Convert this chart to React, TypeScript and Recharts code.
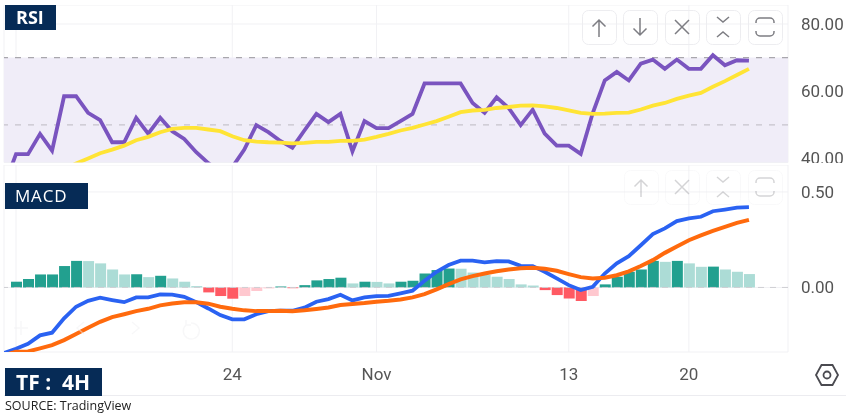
import React from 'react';
import { ComposedChart, Line, Bar, Cell, XAxis, YAxis, CartesianGrid, ReferenceLine, ReferenceArea } from 'recharts';

const rsiValues = [31.7, 41.25, 41.25, 47.3, 42.3, 58.5, 58.5, 53.55, 51.4, 44.8, 44.8, 52.1, 47.4, 52.1, 48.1, 45.8, 41.85, 38.6, 36, 37.4, 42.6, 49.9, 47.8, 45.2, 43.2, 48.3, 53.25, 50.8, 53.25, 42.1, 51.1, 49, 49, 51.1, 53.25, 62.3, 62.3, 62.3, 62.3, 56.5, 53.55, 58.2, 55, 49.9, 54.5, 47.4, 43.8, 43.8, 41.35, 53.5, 63.2, 65.75, 63.2, 68.2, 69.4, 66.65, 69.4, 66.65, 66.65, 70.7, 67.7, 69.2, 69.1];
const rsiMaValues = [null, null, null, null, null, 36.7, 38.5, 40, 41.55, 42.6, 43.8, 45.4, 46.4, 47.8, 48.8, 49.1, 49.1, 48.6, 48.1, 46.6, 45.4, 45, 44.8, 44.7, 44.5, 44.6, 44.9, 44.9, 45.2, 45.2, 45.6, 46.4, 47.3, 48.3, 49.1, 50.1, 51.1, 52.4, 53.75, 54.25, 54.45, 55, 55.3, 55.7, 55.8, 55.5, 55, 54.3, 53.55, 53.25, 53.35, 53.55, 53.65, 54.55, 55.7, 56.5, 57.7, 58.7, 59.5, 61.3, 63, 64.8, 66.65];
const macdValues = [-0.343, -0.321, -0.295, -0.251, -0.237, -0.162, -0.101, -0.07, -0.054, -0.066, -0.077, -0.052, -0.052, -0.037, -0.038, -0.049, -0.077, -0.110, -0.145, -0.167, -0.167, -0.14, -0.124, -0.122, -0.122, -0.106, -0.075, -0.061, -0.038, -0.068, -0.052, -0.045, -0.044, -0.031, -0.017, 0.035, 0.082, 0.117, 0.14, 0.14, 0.131, 0.138, 0.136, 0.113, 0.112, 0.082, 0.047, 0.012, -0.014, 0.003, 0.073, 0.126, 0.164, 0.221, 0.279, 0.309, 0.347, 0.361, 0.37, 0.399, 0.408, 0.418, 0.42];
const signalValues = [-0.355, -0.337, -0.335, -0.319, -0.302, -0.276, -0.244, -0.211, -0.18, -0.155, -0.14, -0.124, -0.112, -0.094, -0.084, -0.077, -0.077, -0.085, -0.101, -0.112, -0.12, -0.124, -0.124, -0.122, -0.124, -0.12, -0.113, -0.105, -0.092, -0.087, -0.082, -0.075, -0.07, -0.063, -0.052, -0.035, -0.01, 0.017, 0.042, 0.059, 0.073, 0.085, 0.094, 0.101, 0.103, 0.098, 0.087, 0.07, 0.054, 0.047, 0.051, 0.064, 0.084, 0.112, 0.143, 0.181, 0.214, 0.247, 0.272, 0.296, 0.317, 0.338, 0.354];
const histValues = [null, 0.03, 0.044, 0.068, 0.068, 0.112, 0.139, 0.138, 0.126, 0.094, 0.068, 0.069, 0.054, 0.061, 0.047, 0.03, 0.007, -0.026, -0.045, -0.059, -0.045, -0.019, -0.005, 0.005, -0.004, 0.012, 0.037, 0.044, 0.051, 0.021, 0.03, 0.029, 0.021, 0.03, 0.035, 0.073, 0.091, 0.099, 0.098, 0.078, 0.065, 0.056, 0.044, 0.016, 0.01, -0.014, -0.04, -0.058, -0.071, -0.045, 0.016, 0.056, 0.082, 0.094, 0.139, 0.134, 0.139, 0.126, 0.108, 0.109, 0.094, 0.082, 0.07];

const timeTicks = [1, 19, 31, 47, 57];
const timeLabels: Record<number, string> = { 1: '9', 19: '24', 31: 'Nov', 47: '13', 57: '20' };
const rsiTicks = [40, 60, 80];
const macdTicks = [0, 0.5];

const rsiRows = rsiValues.map((rsi, i) => ({ i, rsi, ma: rsiMaValues[i] }));
const macdRows = macdValues.map((macd, i) => ({ i, macd, signal: signalValues[i], hist: histValues[i] }));

const histColor = (i: number) => {
  const v = histValues[i] ?? 0;
  const prev = histValues[i - 1] ?? 0;
  if (v >= 0) return v >= prev ? '#22a08f' : '#acdcd6';
  return v < prev ? '#ff5a63' : '#ffc8cf';
};

const X_MAX = 65.25;
const FONT = 'Roboto, sans-serif';
const gridColor = '#f1f1f4';
const tickStyle = { fontSize: 17, fontFamily: FONT, fill: '#555' };

const label = (left: number, top: number, w: number, h: number, text: string, extra: React.CSSProperties) => (
  <div style={{ position: 'absolute', left, top, width: w, height: h, background: '#062b56', color: '#fff', lineHeight: h + 'px', fontFamily: '"Open Sans", sans-serif', boxSizing: 'border-box', whiteSpace: 'pre', ...extra }}>{text}</div>
);

const icons: Record<string, React.ReactNode> = {
  up: <path d="M17 27V10M10.5 16.5 17 10l6.5 6.5" />,
  down: <path d="M17 8v17M10.5 18.5 17 25l6.5-6.5" />,
  x: <path d="M10 10l14 14M24 10 10 24" />,
  collapse: <path d="M11 7l6 5 6-5M11 27l6-5 6 5" />,
  full: <path d="M8 13v-1a4 4 0 0 1 4-4h10a4 4 0 0 1 4 4v1M8 21v1a4 4 0 0 0 4 4h10a4 4 0 0 0 4-4v-1" />,
};

const ToolBtn = ({ x, y, icon, o }: { x: number; y: number; icon: string; o: number }) => (
  <svg width={35} height={35} style={{ position: 'absolute', left: x, top: y, opacity: o }}>
    <rect x={0.5} y={0.5} width={34} height={34} rx={6} fill="none" stroke="#ededf0" />
    <g fill="none" stroke="#7d7d83" strokeWidth={1.5}>{icons[icon]}</g>
  </svg>
);

const FaintNav = () => (
  <svg width={200} height={30} style={{ position: 'absolute', left: 10, top: 315, opacity: 0.5 }}>
    <g fill="none" stroke="#f1f1f3" strokeWidth={1.5}>
      <path d="M4 13h14M11 6v14M74 7l-7 6 7 6M122 7l7 6-7 6" />
      <path d="M181 8a8 8 0 1 1-5 2M176 5v5h5" />
    </g>
  </svg>
);

export default function App() {
  return (
    <div style={{ position: 'absolute', left: 0, top: 0, width: 846, height: 414, background: '#fff', overflow: 'hidden', filter: 'blur(0.4px)' }}>
      <div style={{ position: 'absolute', left: 0, top: 5 }}>
        <ComposedChart width={846} height={157.5} data={rsiRows} margin={{ top: 0, right: 0, bottom: 0, left: 4 }}>
          <CartesianGrid stroke={gridColor} />
          <XAxis type="number" dataKey="i" domain={[0, X_MAX]} ticks={timeTicks} hide allowDataOverflow />
          <YAxis orientation="right" width={58} domain={[38.78, 85.65]} ticks={rsiTicks} interval={0} tickFormatter={(v: number) => v.toFixed(2)} tick={tickStyle} axisLine={false} tickLine={false} tickMargin={7} allowDataOverflow />
          <ReferenceArea y1={38.78} y2={70} fill="#f0edf8" fillOpacity={1} stroke="none" ifOverflow="hidden" />
          <ReferenceLine y={70} stroke="#a9a7ad" strokeDasharray="6 7" strokeWidth={1.3} />
          <ReferenceLine y={50} stroke="#c6c3cc" strokeDasharray="6 7" strokeWidth={1.3} />
          <Line dataKey="rsi" stroke="#7a54bf" strokeWidth={3.8} dot={false} isAnimationActive={false} />
          <Line dataKey="ma" stroke="#ffe435" strokeWidth={3.8} dot={false} isAnimationActive={false} />
        </ComposedChart>
      </div>
      <div style={{ position: 'absolute', left: 0, top: 165 }}>
        <ComposedChart width={846} height={231} data={macdRows} margin={{ top: 0, right: 0, bottom: 0, left: 4 }}>
          <CartesianGrid stroke={gridColor} />
          <XAxis type="number" dataKey="i" domain={[0, X_MAX]} ticks={timeTicks} tickFormatter={(v: number) => timeLabels[v]} tick={tickStyle} axisLine={false} tickLine={false} tickMargin={10} height={44} interval={0} allowDataOverflow />
          <YAxis orientation="right" width={58} domain={[-0.338, 0.641]} ticks={macdTicks} interval={0} tickFormatter={(v: number) => v.toFixed(2)} tick={tickStyle} axisLine={false} tickLine={false} tickMargin={7} allowDataOverflow />
          <ReferenceLine y={0} stroke="#cfcfd3" strokeDasharray="6 6" />
          <Bar dataKey="hist" barSize={11} isAnimationActive={false}>
            {macdRows.map((r) => <Cell key={r.i} fill={histColor(r.i)} />)}
          </Bar>
          <Line dataKey="macd" stroke="#2a62f2" strokeWidth={3.8} dot={false} isAnimationActive={false} />
          <Line dataKey="signal" stroke="#ff6a0d" strokeWidth={4} dot={false} isAnimationActive={false} />
        </ComposedChart>
      </div>

      {['up', 'down', 'x', 'collapse', 'full'].map((ic, k) => (
        <ToolBtn key={ic} x={582 + k * 41.4} y={10} icon={ic} o={1} />
      ))}
      {['up', 'x', 'collapse', 'full'].map((ic, k) => (
        <ToolBtn key={ic} x={623.5 + k * 41.4} y={170} icon={ic} o={0.32} />
      ))}
      <FaintNav />

      <svg width={26} height={26} style={{ position: 'absolute', left: 814, top: 362 }}>
        <path d="M7.5 3h11l5.5 10-5.5 10h-11L2 13z" fill="none" stroke="#4a4a50" strokeWidth={1.8} />
        <circle cx={13} cy={13} r={3.5} fill="none" stroke="#4a4a50" strokeWidth={1.8} />
      </svg>

      <div style={{ position: 'absolute', left: 4, right: 0, top: 395, height: 1, background: '#ececf0' }} />
      {label(5, 5, 51, 25, 'RSI', { fontSize: 18, fontWeight: 700, paddingLeft: 11 })}
      {label(5, 183, 83, 26, 'MACD', { fontSize: 17, fontWeight: 400, paddingLeft: 10, letterSpacing: 0.8 })}
      {label(5, 368, 97, 28, 'TF :  4H', { fontSize: 21, fontWeight: 700, paddingLeft: 11 })}
      <div style={{ position: 'absolute', left: 5, top: 397, fontFamily: '"Open Sans", sans-serif', fontSize: 12.5, lineHeight: '17px', color: '#222' }}>SOURCE: TradingView</div>
    </div>
  );
}
